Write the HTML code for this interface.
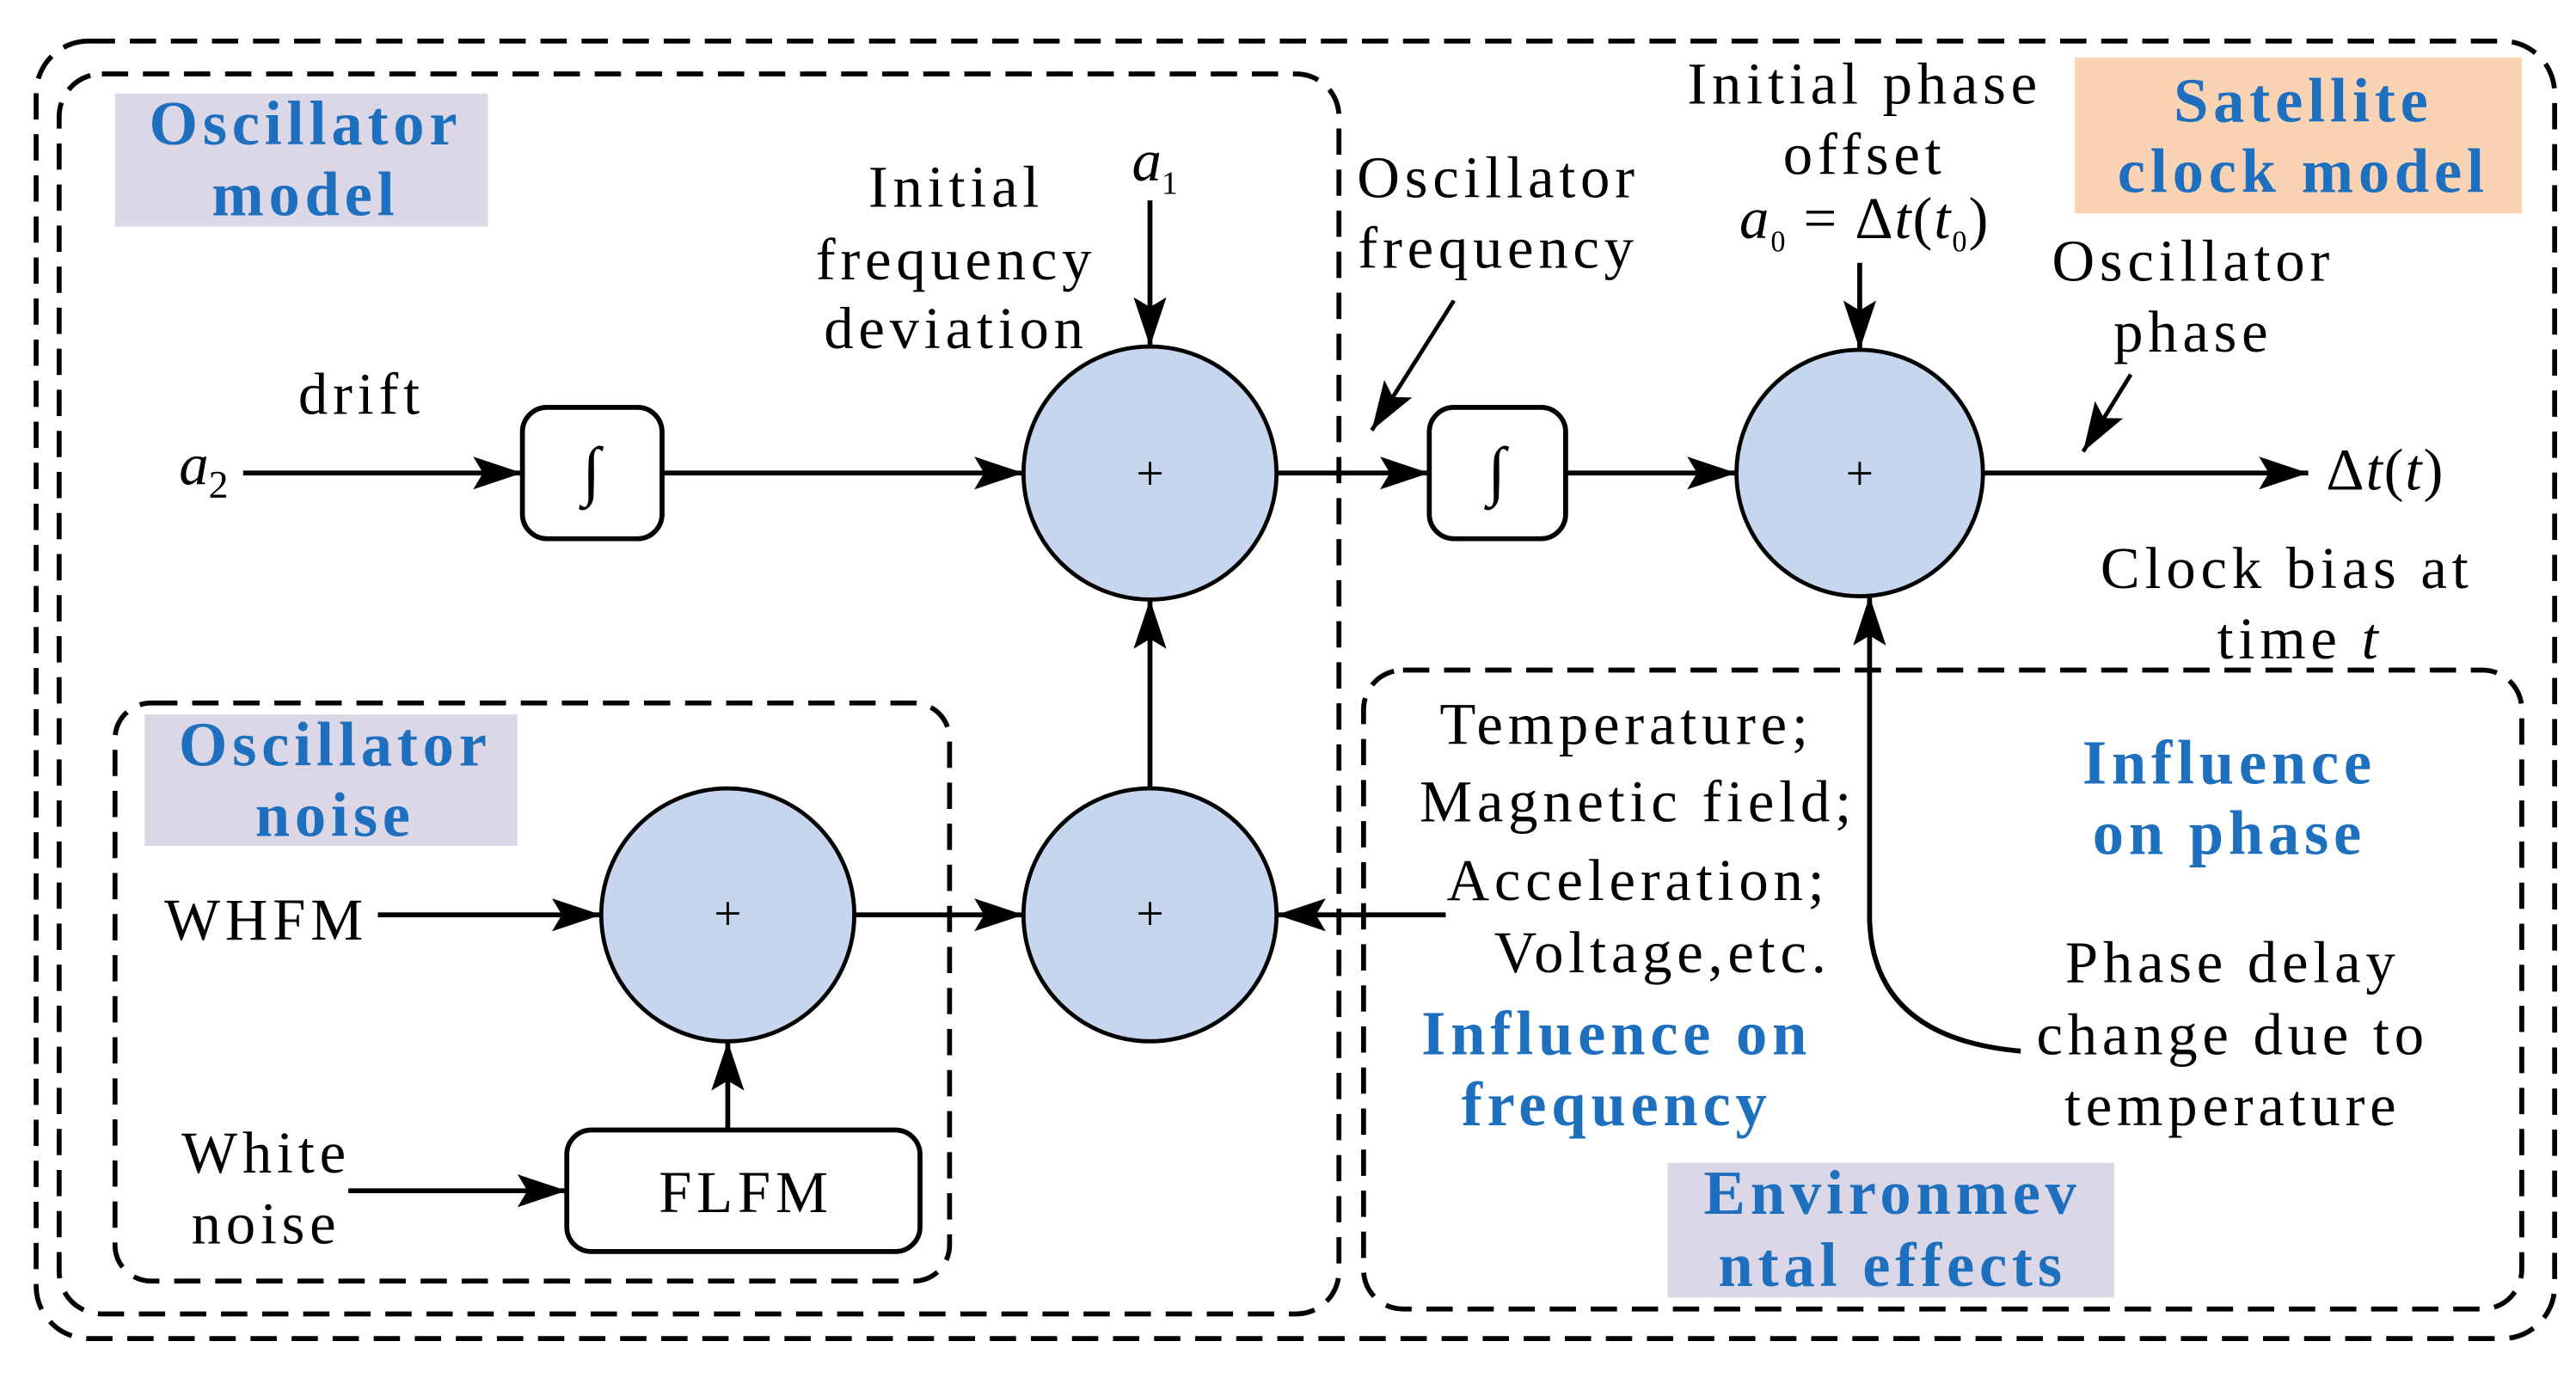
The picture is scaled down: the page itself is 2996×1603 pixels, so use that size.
<!DOCTYPE html>
<html><head><style>html,body{margin:0;padding:0;background:#fff}svg{display:block}</style></head><body>
<svg width="2996" height="1603" viewBox="0 0 1568 839" preserveAspectRatio="none" xmlns="http://www.w3.org/2000/svg" font-family="Liberation Serif, serif">
<defs>
<marker id="a" viewBox="0 0 30 20" refX="30" refY="10" markerWidth="30" markerHeight="20" orient="auto" markerUnits="userSpaceOnUse"><path d="M0,0 L30,10 L0,20 L6,10 z" fill="#000"/></marker></defs>
<g fill="none" stroke="#000" stroke-width="3" stroke-dasharray="16,9">
<rect x="22" y="25" width="1533" height="790" rx="32"/>
<rect x="36" y="45" width="779" height="755" rx="26"/>
<rect x="70" y="428" width="508" height="352" rx="22"/>
<rect x="830" y="408" width="705" height="389" rx="24"/>
</g>
<rect x="70" y="57" width="227" height="81" fill="#dcd7e6"/>
<rect x="1263" y="35" width="272" height="95" fill="#f9d3b4"/>
<rect x="88" y="435" width="227" height="80" fill="#dcd7e6"/>
<rect x="1015" y="708" width="272" height="82" fill="#dcd7e6"/>
<g fill="#1f6fbf" font-weight="bold" font-size="38" text-anchor="middle" letter-spacing="3">
<text x="186" y="88">Oscillator</text><text x="186" y="131">model</text>
<text x="1402" y="74">Satellite</text><text x="1402" y="117">clock model</text>
<text x="204" y="466">Oscillator</text><text x="204" y="509">noise</text>
<text x="1152" y="739">Environmev</text><text x="1152" y="783">ntal effects</text>
<text x="1357" y="477">Influence</text><text x="1357" y="520">on phase</text>
<text x="984" y="642">Influence on</text><text x="984" y="685">frequency</text>
</g>
<g fill="#c5d6ee" stroke="#000" stroke-width="2.5">
<circle cx="700" cy="288" r="77"/><circle cx="1132" cy="288" r="75"/>
<circle cx="443" cy="557" r="77"/><circle cx="700" cy="557" r="77"/>
</g>
<g fill="#fff" stroke="#000" stroke-width="3">
<rect x="318" y="248" width="85" height="80" rx="15"/>
<rect x="870" y="248" width="83" height="80" rx="15"/>
<rect x="345" y="688" width="215" height="74" rx="15"/>
</g>
<g stroke="#000" stroke-width="3" fill="none" marker-end="url(#a)">
<line x1="148" y1="288" x2="318" y2="288"/>
<line x1="403" y1="288" x2="623" y2="288"/>
<line x1="777" y1="288" x2="870" y2="288"/>
<line x1="953" y1="288" x2="1057" y2="288"/>
<line x1="1207" y1="288" x2="1405" y2="288"/>
<line x1="700" y1="122" x2="700" y2="211"/>
<line x1="1132" y1="160" x2="1132" y2="213"/>
<line x1="700" y1="480" x2="700" y2="365"/>
<line x1="230" y1="557" x2="366" y2="557"/>
<line x1="520" y1="557" x2="623" y2="557"/>
<line x1="880" y1="557" x2="777" y2="557"/>
<line x1="443" y1="688" x2="443" y2="634"/>
<line x1="212" y1="725" x2="345" y2="725"/>
<path d="M1230,640 Q1140,632 1138,560 L1138,363"/>
<line x1="885" y1="183" x2="835" y2="262" stroke-width="2.5"/>
<line x1="1297" y1="228" x2="1268" y2="275" stroke-width="2.5"/>
</g>
<g font-size="30" fill="#000" text-anchor="middle">
<text x="360" y="300" font-size="40">∫</text><text x="911" y="300" font-size="40">∫</text>
<text x="700" y="298">+</text><text x="1132" y="298">+</text>
<text x="443" y="566">+</text><text x="700" y="566">+</text>
</g>
<g font-size="36" fill="#000" text-anchor="middle" letter-spacing="3">
<text x="454" y="738">FLFM</text>
<text x="220" y="252">drift</text>
<text x="124" y="295" font-style="italic" letter-spacing="0">a<tspan font-size="24" font-style="normal" dy="8">2</tspan></text>
<text x="582" y="126">Initial</text><text x="582" y="170">frequency</text><text x="582" y="212">deviation</text>
<text x="703" y="110" font-style="italic" letter-spacing="0">a<tspan font-size="20" font-style="normal" dy="8">1</tspan></text>
<text x="912" y="120">Oscillator</text><text x="912" y="163">frequency</text>
<text x="1135" y="63">Initial phase</text><text x="1135" y="106">offset</text>
<text x="1135" y="145" letter-spacing="1"><tspan font-style="italic">a</tspan><tspan font-size="18" dy="8">0</tspan><tspan dy="-8"> = Δ</tspan><tspan font-style="italic">t</tspan>(<tspan font-style="italic">t</tspan><tspan font-size="18" dy="8">0</tspan><tspan dy="-8">)</tspan></text>
<text x="1335" y="171">Oscillator</text><text x="1335" y="214">phase</text>
<text x="1452" y="298" letter-spacing="1">Δ<tspan font-style="italic">t</tspan>(<tspan font-style="italic">t</tspan>)</text>
<text x="1392" y="358">Clock bias at</text><text x="1400" y="401">time <tspan font-style="italic">t</tspan></text>
<text x="162" y="572">WHFM</text>
<text x="162" y="714">White</text><text x="162" y="757">noise</text>
<text x="990" y="453">Temperature;</text>
<text x="997" y="500">Magnetic field;</text>
<text x="997" y="548">Acceleration;</text>
<text x="1012" y="592">Voltage,etc.</text>
<text x="1359" y="598">Phase delay</text><text x="1359" y="642">change due to</text><text x="1359" y="685">temperature</text>
</g>
</svg>
</body></html>
